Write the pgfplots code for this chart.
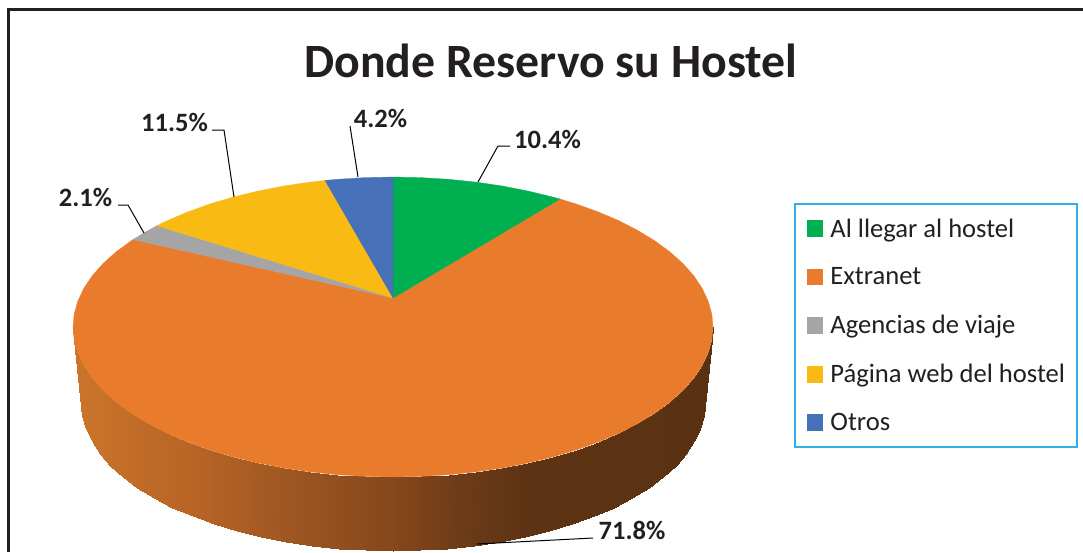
\documentclass[border=0pt]{standalone}
\usepackage{pgfplots}
\pgfplotsset{compat=1.18}
\usepackage{fontspec}
\setmainfont{Carlito}
\definecolor{txt}{HTML}{231F20}
\definecolor{cgreen}{HTML}{00AF50}
\definecolor{corange}{HTML}{E97B2D}
\definecolor{cgrey}{HTML}{A5A5A5}
\definecolor{cyellow}{HTML}{FABA14}
\definecolor{cblue}{HTML}{4670B8}
\definecolor{lborder}{HTML}{2FB0E8}
\newcommand{\lab}[3]{\node[font=\fontsize{26.5}{28}\selectfont\bfseries, text=txt, inner sep=0pt] at (axis cs:#1,#2) {#3};}
\begin{document}
\begin{tikzpicture}[x=1pt,y=1pt]
\path[use as bounding box] (0,0) rectangle (1083,552);
\begin{axis}[
  at={(0,0)}, anchor=south west,
  width=1083pt, height=552pt, scale only axis,
  xmin=0, xmax=1083, ymin=0, ymax=552, y dir=reverse,
  hide axis, clip=false,
  legend cell align=left,
  legend image code/.code={\path (0pt,0pt); \fill[#1] (2pt,-7.5pt) rectangle (17pt,7.5pt);},
  legend style={at={(axis cs:794,203)}, anchor=north west, draw=lborder, line width=1.6pt,
    font=\fontsize{26.6}{28}\selectfont, text=txt, row sep=25pt,
    inner xsep=10pt, inner ysep=13pt, /tikz/every odd column/.append style={column sep=5pt}},
]
% side of the pie
\addplot[surf, shader=interp, mesh/rows=2, mesh/cols=37, point meta=x, forget plot,
  point meta min=73, point meta max=713,
  colormap={side}{rgb255(73)=(203,117,43); rgb255(200)=(182,99,37); rgb255(300)=(155,85,34);
    rgb255(400)=(131,70,27); rgb255(470)=(107,58,23); rgb255(530)=(92,51,19); rgb255(713)=(90,50,18)}]
  coordinates {
  (73,327)(74.2,340.1)(77.9,353)(83.9,365.8)(92.3,378.3)(103,390.4)(115.9,402)(130.9,413)(147.9,423.4)(166.7,433.1)
  (187.3,441.9)(209.5,449.9)(233,456.9)(257.8,462.9)(283.6,468)(310.2,471.9)(337.4,474.7)(365.1,476.4)(393,477)
  (420.9,476.4)(448.6,474.7)(475.8,471.9)(502.4,468)(528.2,462.9)(553,456.9)(576.5,449.9)(598.7,441.9)(619.3,433.1)
  (638.1,423.4)(655.1,413)(670.1,402)(683,390.4)(693.7,378.3)(702.1,365.8)(708.1,353)(711.8,340.1)(713,327)

  (81,403)(82.2,415.9)(85.7,428.7)(91.6,441.3)(99.8,453.6)(110.2,465.5)(122.8,477)(137.4,487.9)(154,498.1)(172.4,507.7)
  (192.5,516.4)(214,524.2)(237,531.2)(261.1,537.1)(286.3,542.1)(312.2,546)(338.8,548.8)(365.8,550.4)(393,551)
  (420.2,550.4)(447.2,548.8)(473.8,546)(499.7,542.1)(524.9,537.1)(549,531.2)(572,524.2)(593.5,516.4)(613.6,507.7)
  (632,498.1)(648.6,487.9)(663.2,477)(675.8,465.5)(686.2,453.6)(694.4,441.3)(700.3,428.7)(703.8,415.9)(705,403)
  };
% top slices
\addplot[fill=corange, draw=corange, line width=.3pt, forget plot] coordinates {
  (393,298)(560,199)(576.5,204.1)(598.7,212.1)(619.3,220.9)(638.1,230.6)(655.1,241)(670.1,252)(683,263.6)(693.7,275.7)
  (702.1,288.2)(708.1,301)(711.8,313.9)(713,327)
  (711.8,340.1)(708.1,353)(702.1,365.8)(693.7,378.3)(683,390.4)(670.1,402)(655.1,413)(638.1,423.4)(619.3,433.1)(598.7,441.9)
  (576.5,449.9)(553,456.9)(528.2,462.9)(502.4,468)(475.8,471.9)(448.6,474.7)(420.9,476.4)(393,477)
  (365.1,476.4)(337.4,474.7)(310.2,471.9)(283.6,468)(257.8,462.9)(233,456.9)(209.5,449.9)(187.3,441.9)(166.7,433.1)
  (147.9,423.4)(130.9,413)(115.9,402)(103,390.4)(92.3,378.3)(83.9,365.8)(77.9,353)(74.2,340.1)(73,327)
  (74.2,313.9)(77.9,301)(83.9,288.2)(92.3,275.7)(103,263.6)(115.9,252)(133,239.5)(393,298)};
\addlegendimage{cgreen}\addlegendentry{Al llegar al hostel}
\addlegendimage{corange}\addlegendentry{Extranet}
\addlegendimage{cgrey}\addlegendentry{Agencias de viaje}
\addlegendimage{cyellow}\addlegendentry{Página web del hostel}
\addlegendimage{cblue}\addlegendentry{Otros}
\addplot[fill=cgreen, draw=cgreen, line width=.3pt, forget plot] coordinates {
  (393,298)(393,177)(420.9,177.6)(448.6,179.3)(475.8,182.1)(502.4,186)(528.2,191.1)(553,197.1)(560,199)(393,298)};
\addplot[fill=cgrey, draw=cgrey, line width=.3pt, forget plot] coordinates {
  (393,298)(133,239.5)(147.9,230.6)(157,225.7)(393,298)};
\addplot[fill=cyellow, draw=cyellow, line width=.3pt, forget plot] coordinates {
  (393,298)(157,225.7)(166.7,220.9)(187.3,212.1)(209.5,204.1)(233,197.1)(257.8,191.1)(283.6,186)(310.2,182.1)(325,180.4)(393,298)};
\addplot[fill=cblue, draw=cblue, line width=.3pt, forget plot] coordinates {
  (393,298)(325,180.4)(337.4,179.3)(365.1,177.6)(393,177)(393,298)};
% leader lines
\addplot[black, line width=1pt, forget plot] coordinates {(144,233)(128,205)(118,205)};
\addplot[black, line width=1pt, forget plot] coordinates {(234,197)(224,130)(212,130)};
\addplot[black, line width=1pt, forget plot] coordinates {(358,177)(350,126)};
\addplot[black, line width=1pt, forget plot] coordinates {(478,182)(498,146)(510,146)};
\addplot[black, line width=1pt, forget plot] coordinates {(477,544)(593,538)};
% frame (top and left only)
\addplot[txt, line width=2.6pt, forget plot] coordinates {(1083,9.3)(8.7,9.3)(8.7,552)};
\lab{85.5}{197}{2.1\%}
\lab{174.5}{122}{11.5\%}
\lab{380.5}{118}{4.2\%}
\lab{547.5}{139}{10.4\%}
\lab{632}{530}{71.8\%}
\node[font=\fontsize{47.8}{50}\selectfont\bfseries, text=txt, inner sep=0pt] at (axis cs:551,61) {Donde Reservo su Hostel};
\end{axis}
\end{tikzpicture}
\end{document}
